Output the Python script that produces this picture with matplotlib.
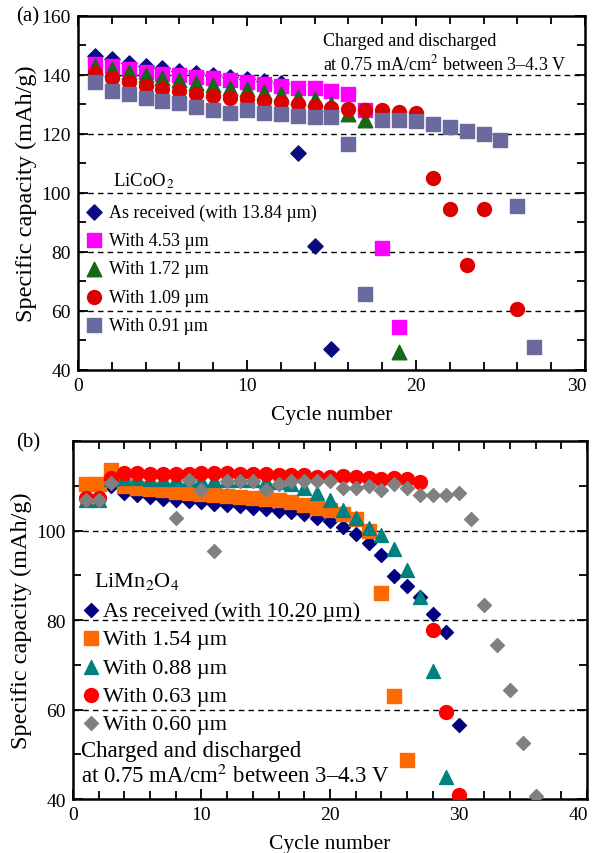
import numpy as np
import matplotlib.pyplot as plt
from matplotlib.ticker import MultipleLocator
from matplotlib.transforms import ScaledTranslation

plt.rcParams['font.family'] = ['Liberation Serif', 'DejaVu Serif']
plt.rcParams['mathtext.fontset'] = 'stix'

# ---- (a) LiCoO2 ----
a_labels = ["As received (with 13.84 \u00b5m)", "With 4.53 \u00b5m", "With 1.72 \u00b5m",
            "With 1.09 \u00b5m", "With 0.91\u2009\u00b5m"]

a_rec_x = list(range(1, 16))
a_rec_y = [146.5, 145.5, 144.2, 143.2, 142.3, 141.4, 140.6, 140.0, 139.2, 138.5,
           137.8, 137.2, 113.6, 82.0, 47.2]
a_453_x = list(range(1, 20))
a_453_y = [143.7, 142.9, 142.0, 141.0, 140.5, 140.0, 139.3, 138.9, 138.2, 137.6,
           137.0, 136.2, 135.7, 135.7, 134.5, 133.6, 128.2, 81.4, 54.5]
a_172_x = list(range(1, 18)) + [19]
a_172_y = [143.0, 142.0, 141.0, 140.0, 139.0, 138.3, 137.4, 136.5, 135.7, 135.1,
           134.2, 133.4, 132.6, 132.0, 130.0, 126.8, 124.8, 46.0]
a_109_x = list(range(1, 25)) + [26]
a_109_y = [140.8, 138.9, 137.6, 136.2, 135.4, 134.7, 133.6, 132.8, 132.2, 131.7,
           131.3, 130.9, 130.3, 129.6, 128.8, 128.6, 128.1, 128.1, 127.3, 127.1,
           105.0, 94.5, 75.7, 94.5, 60.8]
a_091_x = list(range(1, 28))
a_091_y = [137.6, 134.7, 133.6, 132.2, 131.3, 130.5, 129.0, 128.2, 127.1, 128.0,
           127.1, 126.7, 126.2, 125.9, 125.6, 116.5, 65.9, 124.8, 124.8, 124.5,
           123.3, 122.2, 121.1, 119.9, 118.0, 95.7, 47.7]

# ---- (b) LiMn2O4 ----
b_labels = ["As received (with 10.20 \u00b5m)", "With 1.54 \u00b5m", "With 0.88 \u00b5m",
            "With 0.63 \u00b5m", "With 0.60 \u00b5m"]

b_rec_x = list(range(1, 31))
b_rec_y = [109.5, 109.5, 110.0, 108.4, 108.0, 107.4, 107.1, 106.8, 106.5, 106.3,
           106.0, 105.7, 105.4, 105.1, 104.8, 104.4, 104.1, 103.6, 102.9, 102.1,
           100.9, 99.2, 97.2, 94.5, 89.8, 87.6, 85.2, 81.3, 77.3, 56.5]
b_154_x = list(range(1, 27))
b_154_y = [110.5, 110.5, 113.5, 109.9, 109.6, 109.3, 109.0, 108.7, 108.4, 108.1,
           107.9, 107.7, 107.5, 107.3, 107.1, 106.8, 106.3, 105.8, 105.0, 104.5,
           103.8, 102.5, 100.0, 86.0, 63.0, 48.7]
b_088_x = list(range(1, 30))
b_088_y = [106.8, 106.8, 111.5, 111.8, 111.7, 111.6, 111.6, 111.5, 111.5, 111.4,
           111.4, 111.3, 111.3, 111.2, 111.1, 110.9, 110.3, 109.5, 108.4, 106.8,
           104.6, 102.7, 100.6, 98.9, 95.9, 91.2, 85.2, 68.5, 44.9]
b_063_x = list(range(1, 31))
b_063_y = [107.3, 107.3, 111.8, 112.9, 112.9, 112.7, 112.7, 112.7, 112.6, 112.8,
           112.8, 112.8, 112.7, 112.7, 112.6, 112.5, 112.3, 112.3, 112.0, 112.0,
           112.2, 112.0, 111.8, 111.6, 111.7, 111.5, 110.8, 77.7, 59.4, 41.0]
b_060_x = [1, 2, 3] + list(range(8, 37))
b_060_y = [106.9, 106.9, 110.6, 102.7, 111.4, 109.1, 95.5, 111.0, 111.0, 111.0,
           109.0, 110.3, 111.0, 111.0, 111.0, 111.0, 109.5, 109.5, 109.9, 109.0,
           110.3, 109.5, 107.9, 107.9, 107.9, 108.3, 102.6, 83.4, 74.5, 64.4,
           52.5, 40.7]


def style_axes(ax, xmax, ylo, yhi, grid_vals):
    ax.set_xlim(0, xmax)
    ax.set_ylim(ylo, yhi)
    ax.set_xticks(np.arange(0, xmax + 1, 10))
    ax.xaxis.set_minor_locator(MultipleLocator(2))
    ax.yaxis.set_major_locator(MultipleLocator(20))
    ax.yaxis.set_minor_locator(MultipleLocator(10))
    ax.tick_params(which='both', direction='in', top=True, right=True,
                   labelsize=14, width=1.3)
    ax.tick_params(which='major', length=7, pad=5)
    ax.tick_params(which='minor', length=6)
    for s in ax.spines.values():
        s.set_linewidth(1.8)
    for v in grid_vals:
        ax.axhline(v, color='k', lw=1.0, ls=(0, (4, 3)), zorder=1)
    ax.set_xlabel("Cycle number", fontsize=15.5, labelpad=8)
    ax.set_ylabel("Specific capacity (mAh/g)", fontsize=17.5, labelpad=3)
    # nudge the last x tick label so it stays inside the figure
    lab = ax.xaxis.get_major_ticks()[-1].label1
    lab.set_transform(lab.get_transform() + ScaledTranslation(-6 / 72, 0, ax.figure.dpi_scale_trans))


fig = plt.figure(figsize=(5.93, 8.54), dpi=100)

# panel (a)
ax1 = fig.add_axes([0.1315, 0.5656, 0.855, 0.4145])
style_axes(ax1, 30, 40, 160, [60, 80, 100, 120, 140])
h1 = []
h1.append(ax1.scatter(a_rec_x, a_rec_y, marker='D', s=60, c='#0a0a80', zorder=3))
h1.append(ax1.scatter(a_453_x, a_453_y, marker='s', s=100, c='#ff00ff', zorder=3))
h1.append(ax1.scatter(a_172_x, a_172_y, marker='^', s=110, c='#186818', zorder=3))
h1.append(ax1.scatter(a_109_x, a_109_y, marker='o', s=100, c='#dd0000', zorder=3))
h1.append(ax1.scatter(a_091_x, a_091_y, marker='s', s=100, c='#6a6a9e', zorder=3))
ax1.legend(h1, a_labels, loc='upper left', bbox_to_anchor=(0.017, 0.47),
           frameon=False, fontsize=13, handlelength=0.8, handletextpad=0.45,
           labelspacing=0.62, borderpad=0, borderaxespad=0)
ax1.text(0.07, 0.535, "LiCoO$_{\\,2}$", transform=ax1.transAxes, fontsize=13.5,
         va='center')
ax1.text(0.484, 0.955, "Charged and discharged\nat 0.75 mA/cm$^2$ between 3\u20134.3 V",
         transform=ax1.transAxes, fontsize=13, va='top', linespacing=1.25)
fig.text(0.027, 0.98, "(a)", fontsize=15, va='center')

# panel (b)
ax2 = fig.add_axes([0.123, 0.0632, 0.867, 0.4192])
style_axes(ax2, 40, 40, 120, [60, 80, 100])
ax2.set_yticks([40, 60, 80, 100])
h2 = []
h2.append(ax2.scatter(b_rec_x, b_rec_y, marker='D', s=50, c='#000080', zorder=3))
h2.append(ax2.scatter(b_154_x, b_154_y, marker='s', s=95, c='#ff6a00', zorder=3))
h2.append(ax2.scatter(b_088_x, b_088_y, marker='^', s=100, c='#008080', zorder=3))
h2.append(ax2.scatter(b_063_x, b_063_y, marker='o', s=100, c='#ff0000', zorder=3))
h2.append(ax2.scatter(b_060_x, b_060_y, marker='D', s=50, c='#808080', zorder=3))
ax2.legend(h2, b_labels, loc='upper left', bbox_to_anchor=(0.022, 0.555),
           frameon=False, fontsize=16, handlelength=0.6, handletextpad=0.25,
           labelspacing=0.35, borderpad=0, borderaxespad=0)
ax2.text(0.04, 0.61, "LiMn$_2$O$_4$", transform=ax2.transAxes, fontsize=16,
         va='center')
ax2.text(0.015, 0.165, "Charged and discharged\nat 0.75 mA/cm$^2$ between 3\u20134.3 V",
         transform=ax2.transAxes, fontsize=16.5, va='top', linespacing=1.15)
fig.text(0.027, 0.482, "(b)", fontsize=15, va='center')

fig.savefig("out.png", dpi=100)
